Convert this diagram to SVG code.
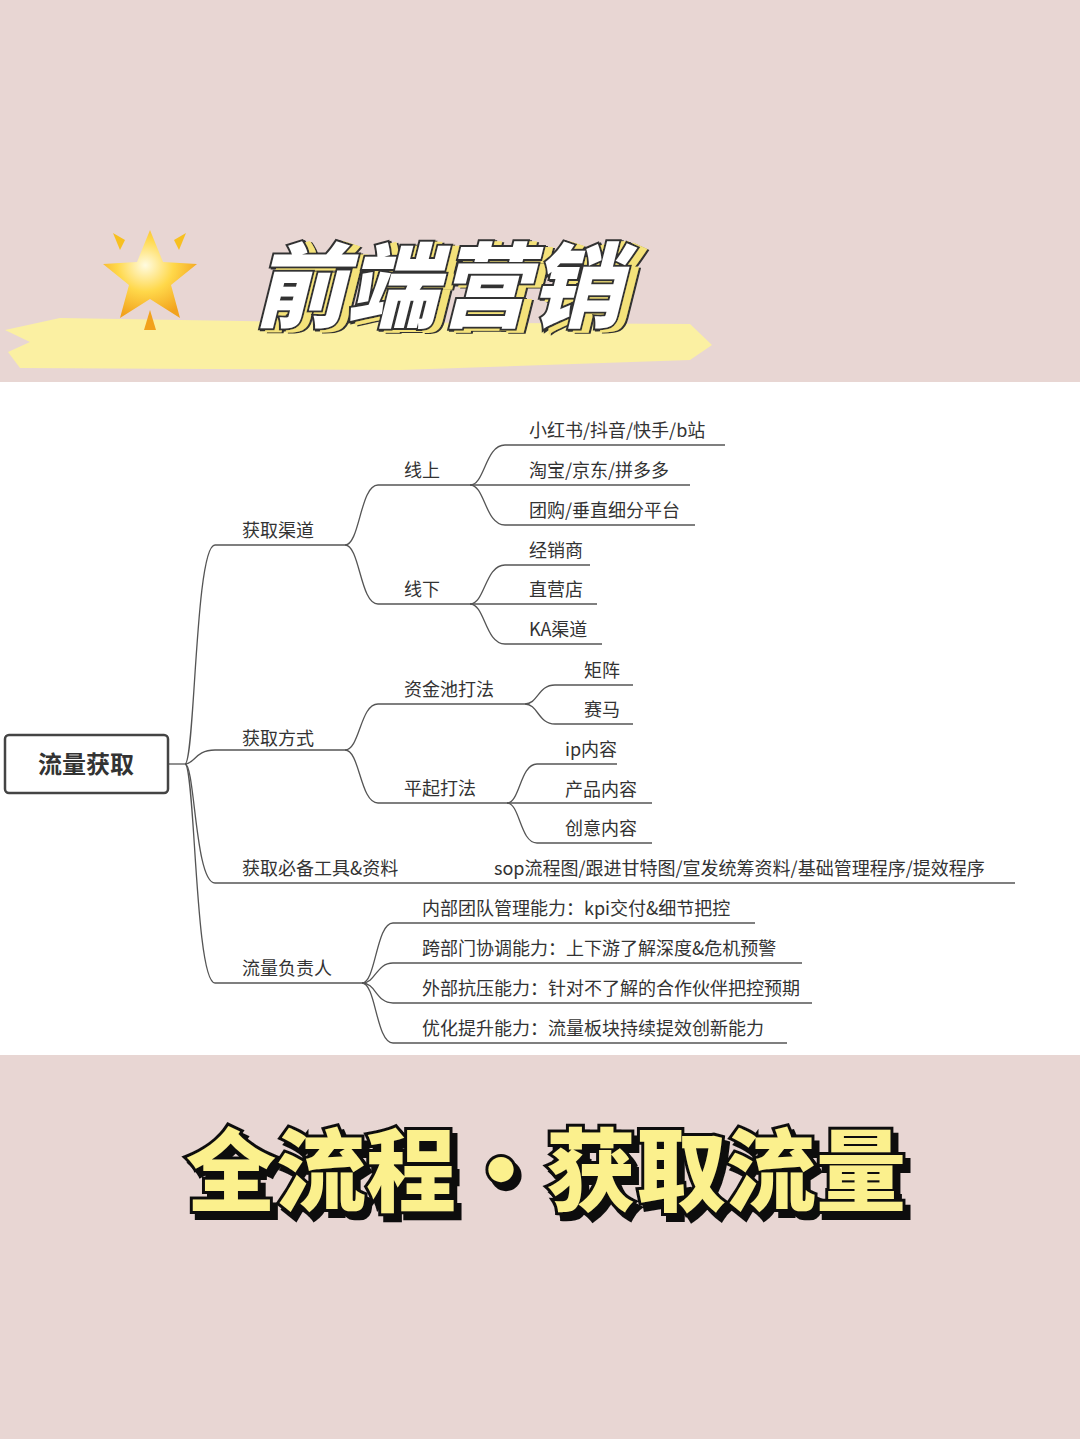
<svg xmlns="http://www.w3.org/2000/svg" width="1080" height="1439" viewBox="0 0 1080 1439">
<defs>
<style>
.t{font-family:"Noto Sans CJK SC","Liberation Sans",sans-serif;font-size:18px;fill:#333}
.l{fill:none;stroke:#555;stroke-width:1.3}
</style>
<radialGradient id="sg" cx="0.45" cy="0.4" r="0.6"><stop offset="0" stop-color="#fffbe0"/><stop offset="0.5" stop-color="#ffd84a"/><stop offset="1" stop-color="#f2a21c"/></radialGradient>
<filter id="ys" x="-10%" y="-20%" width="130%" height="150%"><feDropShadow dx="7" dy="2" stdDeviation="0" flood-color="#f4e27a"/><feDropShadow dx="2" dy="1" stdDeviation="0" flood-color="#333"/></filter>
<filter id="ks" x="-10%" y="-20%" width="130%" height="150%"><feDropShadow dx="5" dy="6" stdDeviation="0" flood-color="#111"/></filter>
</defs>
<rect width="1080" height="1439" fill="#e8d6d3"/>
<g id="header">
<path d="M5 330 L60 318 L300 322 L690 324 L712 345 L690 360 L400 370 L20 368 L8 352 L30 342 Z" fill="#fbf0a2"/>
<polygon points="150,230 163,262 197,264 171,285 180,318 150,299 120,318 129,285 103,264 137,262" fill="url(#sg)"/>
<polygon points="113,233 125,240 120,250" fill="#f7c020"/>
<polygon points="186,233 174,240 179,250" fill="#f7c020"/>
<polygon points="150,310 156,330 144,330" fill="#f2a21c"/>
<text x="438" y="320" text-anchor="middle" font-family="Noto Sans CJK SC,sans-serif" font-weight="900" font-size="92" font-style="italic" fill="#fff" stroke="#333" stroke-width="4" paint-order="stroke" filter="url(#ys)">前端营销</text>
</g>
<rect x="0" y="382" width="1080" height="673" fill="#fff"/>
<g id="connectors">
<path class="l" d="M168 764 H185"/>
<path class="l" d="M185 764 C195 764 195 545 215 545 H345"/>
<path class="l" d="M185 764 C195 764 195 750 215 750 H345"/>
<path class="l" d="M185 764 C195 764 195 883 215 883 H1015"/>
<path class="l" d="M185 764 C195 764 195 983 215 983 H362"/>
<path class="l" d="M345 545 C360 545 360 485 378 485 H470"/>
<path class="l" d="M345 545 C360 545 360 604 378 604 H470"/>
<path class="l" d="M470 485 C485 485 485 445 505 445 H725"/>
<path class="l" d="M470 485 H690"/>
<path class="l" d="M470 485 C485 485 485 525 505 525 H695"/>
<path class="l" d="M470 604 C485 604 485 565 505 565 H590"/>
<path class="l" d="M470 604 H597"/>
<path class="l" d="M470 604 C485 604 485 644 505 644 H602"/>
<path class="l" d="M345 750 C360 750 360 704 378 704 H525"/>
<path class="l" d="M345 750 C360 750 360 803 378 803 H507"/>
<path class="l" d="M525 704 C538 704 538 685 555 685 H633"/>
<path class="l" d="M525 704 C538 704 538 724 555 724 H633"/>
<path class="l" d="M507 803 C520 803 520 764 537 764 H617"/>
<path class="l" d="M507 803 H652"/>
<path class="l" d="M507 803 C520 803 520 843 537 843 H652"/>
<path class="l" d="M362 983 C376 983 376 923 393 923 H755"/>
<path class="l" d="M362 983 C376 983 376 963 393 963 H802"/>
<path class="l" d="M362 983 C376 983 376 1003 393 1003 H812"/>
<path class="l" d="M362 983 C376 983 376 1043 393 1043 H787"/>
</g>
<g id="root"><rect x="5" y="735" width="163" height="58" rx="4" fill="#fff" stroke="#444" stroke-width="2.5"/><text x="86" y="773" text-anchor="middle" font-family="Noto Sans CJK SC,sans-serif" font-weight="bold" font-size="24" fill="#333">流量获取</text></g>
<g id="n1"><text class="t" x="242" y="537">获取渠道</text></g>
<g id="n2"><text class="t" x="242" y="745">获取方式</text></g>
<g id="n3"><text class="t" x="242" y="875">获取必备工具&amp;资料</text><text class="t" x="494" y="875">sop流程图/跟进甘特图/宣发统筹资料/基础管理程序/提效程序</text></g>
<g id="n4"><text class="t" x="242" y="975">流量负责人</text></g>
<g id="n5"><text class="t" x="404" y="477">线上</text></g>
<g id="n6"><text class="t" x="404" y="596">线下</text></g>
<g id="n7"><text class="t" x="529" y="437">小红书/抖音/快手/b站</text></g>
<g id="n8"><text class="t" x="529" y="477">淘宝/京东/拼多多</text></g>
<g id="n9"><text class="t" x="529" y="517">团购/垂直细分平台</text></g>
<g id="n10"><text class="t" x="529" y="557">经销商</text></g>
<g id="n11"><text class="t" x="529" y="596">直营店</text></g>
<g id="n12"><text class="t" x="529" y="636">KA渠道</text></g>
<g id="n13"><text class="t" x="404" y="696">资金池打法</text></g>
<g id="n14"><text class="t" x="404" y="795">平起打法</text></g>
<g id="n15"><text class="t" x="584" y="677">矩阵</text></g>
<g id="n16"><text class="t" x="584" y="716">赛马</text></g>
<g id="n17"><text class="t" x="565" y="756">ip内容</text></g>
<g id="n18"><text class="t" x="565" y="796">产品内容</text></g>
<g id="n19"><text class="t" x="565" y="835">创意内容</text></g>
<g id="n20"><text class="t" x="422" y="915">内部团队管理能力：kpi交付&amp;细节把控</text></g>
<g id="n21"><text class="t" x="422" y="955">跨部门协调能力：上下游了解深度&amp;危机预警</text></g>
<g id="n22"><text class="t" x="422" y="995">外部抗压能力：针对不了解的合作伙伴把控预期</text></g>
<g id="n23"><text class="t" x="422" y="1035">优化提升能力：流量板块持续提效创新能力</text></g>
<g id="footer">
<text x="546" y="1204" text-anchor="middle" font-family="Noto Sans CJK SC,sans-serif" font-weight="900" font-size="90" fill="#fbf08d" stroke="#111" stroke-width="6" paint-order="stroke" filter="url(#ks)">全流程·获取流量</text>
</g>
</svg>
